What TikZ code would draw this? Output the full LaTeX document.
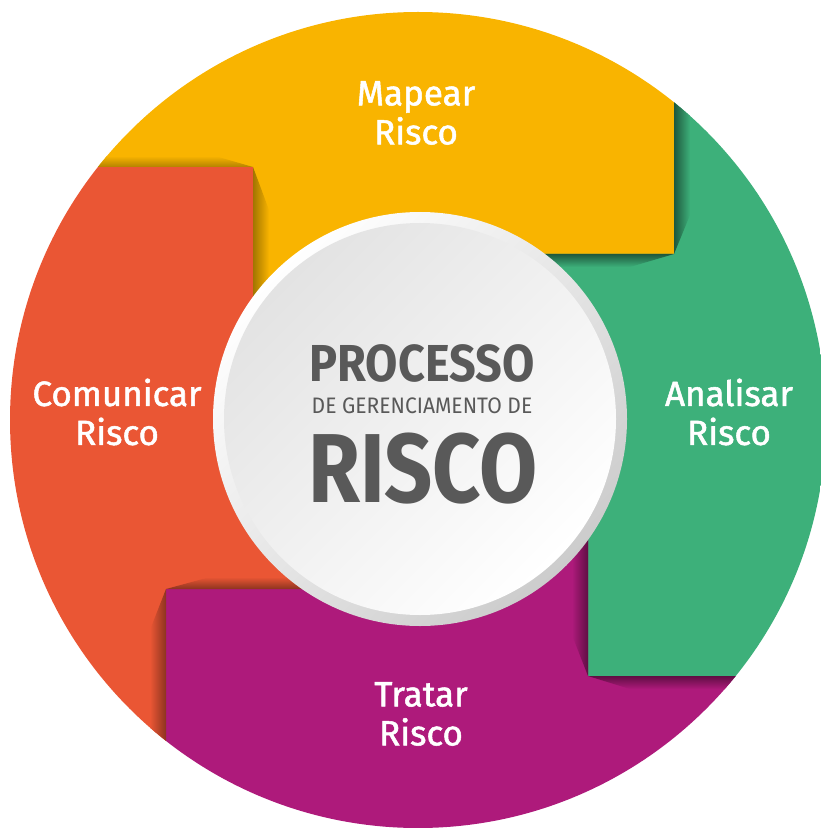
\documentclass[tikz,border=0pt]{standalone}
\usepackage{fontspec}
\setmainfont{Fira Sans}[FakeStretch=0.94]
\newfontfamily\labelfont{Fira Sans}[FakeBold=1.5]
\newfontfamily\titlefont{Fira Sans}[FakeStretch=0.9]
\newfontfamily\riscofont{Fira Sans}[FakeStretch=0.86]
\usetikzlibrary{positioning}
\definecolor{orangeseg}{HTML}{EA5634}
\definecolor{yellowseg}{HTML}{F9B400}
\definecolor{greenseg}{HTML}{3DB07A}
\definecolor{purpleseg}{HTML}{AE1A7B}
\definecolor{titlegray}{HTML}{595959}
\def\stepnode{\node[text=white,align=center,font=\fontsize{17.5}{19.5}\labelfont]}

\begin{document}
\begin{tikzpicture}[x=0.5pt,y=-0.5pt]
\useasboundingbox (0,0) rectangle (820,828);
\begin{scope}
\clip (418,420) circle[radius=204pt];
\fill[orangeseg] (0,167) -- (253,167) -- (253,420) -- (420,420) -- (420,589) -- (166,589) -- (166,840) -- (0,840) -- cycle;
\fill[yellowseg] (0,0) -- (674,0) -- (674,254) -- (420,254) -- (420,420) -- (253,420) -- (253,167) -- (0,167) -- cycle;
\fill[greenseg] (674,0) -- (840,0) -- (840,676) -- (588,676) -- (588,420) -- (420,420) -- (420,254) -- (674,254) -- cycle;
\fill[purpleseg] (166,589) -- (420,589) -- (420,420) -- (588,420) -- (588,676) -- (840,676) -- (840,840) -- (166,840) -- cycle;
\shade[top color=yellowseg, bottom color=yellowseg!72!black] (0,156) -- (215,156) -- (253,167) -- (0,167) -- cycle;
\shade[left color=yellowseg!65!black, right color=yellowseg] (253,167) -- (269,210) -- (269,420) -- (253,420) -- cycle;
\shade[left color=greenseg!50!black, right color=greenseg] (674,0) -- (690,0) -- (690,215) -- (674,254) -- cycle;
\shade[top color=greenseg!50!black, bottom color=greenseg] (420,254) -- (674,254) -- (630,267) -- (420,267) -- cycle;
\shade[left color=purpleseg, right color=purpleseg!55!black] (588,420) -- (588,676) -- (572,635) -- (572,420) -- cycle;
\shade[top color=purpleseg!55!black, bottom color=purpleseg] (588,676) -- (840,676) -- (840,689) -- (630,689) -- cycle;
\shade[top color=orangeseg, bottom color=orangeseg!60!black] (166,589) -- (420,589) -- (420,577) -- (210,577) -- cycle;
\shade[left color=orangeseg, right color=orangeseg!60!black] (166,589) -- (166,840) -- (150,840) -- (150,630) -- cycle;
\end{scope}
\shade[top color=white, bottom color=black!20, shading angle=45] (420,419) circle[radius=103.5pt];
\shade[top color=black!11, bottom color=white, shading angle=45] (420,419) circle[radius=98pt];
\stepnode (mapear) at (416,113) {Mapear\\Risco};
\stepnode (analisar) at (729,412) {Analisar\\Risco};
\stepnode (tratar) at (421,714) {Tratar\\Risco};
\stepnode (comunicar) at (117,412) {Comunicar\\Risco};
\node[anchor=base,text=titlegray,font=\fontsize{26}{26}\titlefont\bfseries] (processo) at (422,381) {PROCESSO};
\node[anchor=base,text=titlegray,font=\fontsize{11.2}{11}\selectfont] (gerenc) at (422,413) {DE GERENCIAMENTO DE};
\node[anchor=base,text=titlegray,font=\fontsize{49}{49}\riscofont\bfseries] (risco) at (423,502) {RISCO};
\end{tikzpicture}
\end{document}
